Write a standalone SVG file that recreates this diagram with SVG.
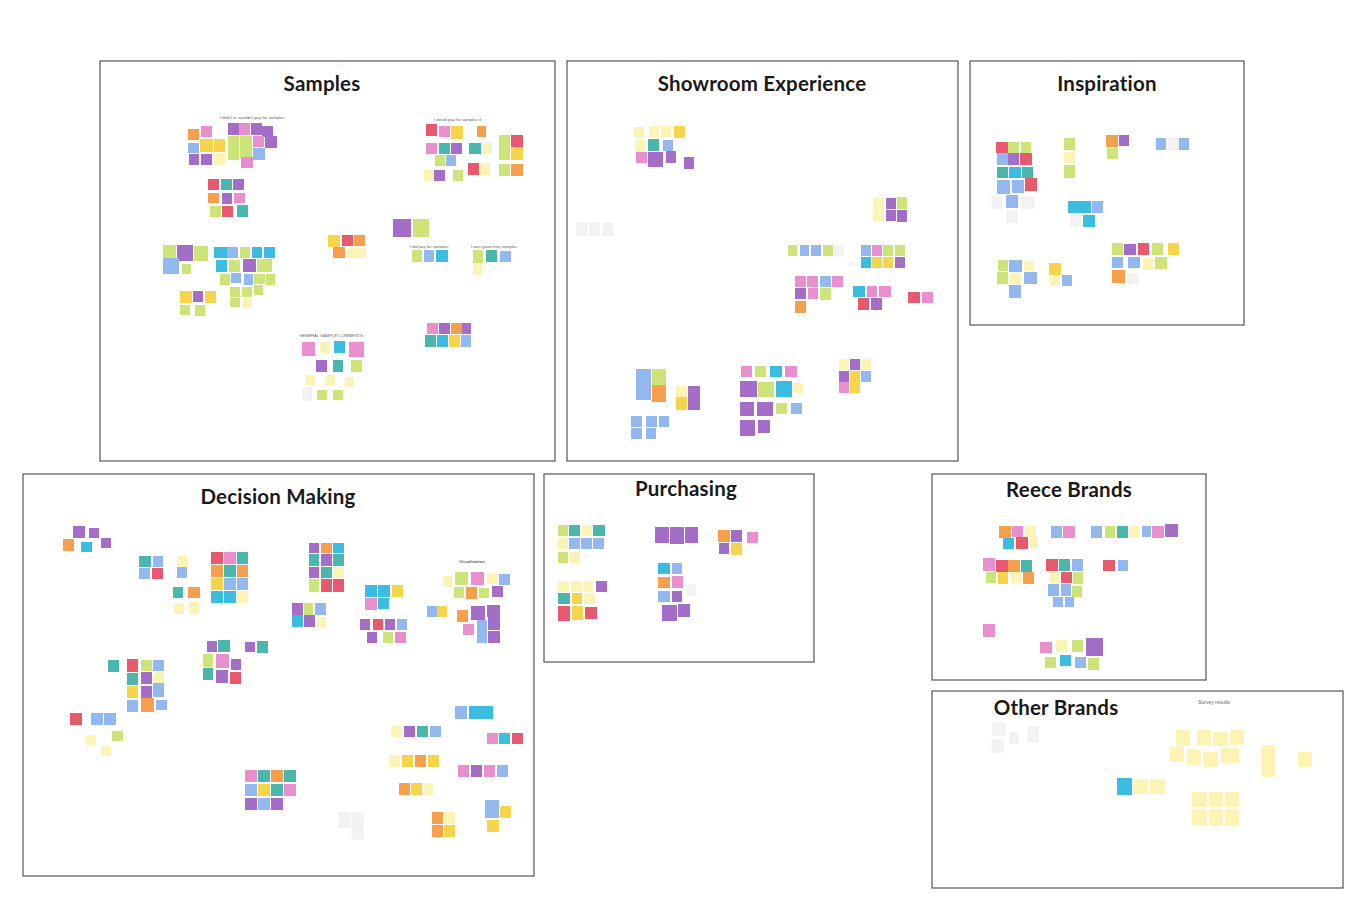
<svg xmlns="http://www.w3.org/2000/svg" width="1368" height="906" viewBox="0 0 1368 906">
<style>
.frame{fill:#fff;stroke:#555;stroke-width:1.2}
.title{font-family:Lato,"Noto Sans",sans-serif;font-weight:700;font-size:20.5px;letter-spacing:0.2px;fill:#1a1a1a;text-anchor:middle}
.lbl{font-family:"Liberation Sans",Arial,sans-serif;font-size:4.2px;fill:#666;text-anchor:middle}
.o{fill:#f6a04d}.p{fill:#ea8fcd}.u{fill:#a46ec8}.y{fill:#f6d44c}.g{fill:#cde479}.l{fill:#fbf4b4}
.b{fill:#93b8ef}.c{fill:#3cbde0}.t{fill:#4bb7ac}.r{fill:#e6596e}.w{fill:#f3f3f3;stroke:#e2e2e2;stroke-width:0.5}
</style>
<rect width="1368" height="906" fill="#fff"/>

<g id="samples">
<rect class="frame" x="100" y="61" width="455" height="400"/>
<text class="title" x="322" y="91">Samples</text>
<text class="lbl" x="252" y="119">I didn't or wouldn't pay for samples</text>
<rect class="o" x="188" y="129" width="11" height="11"/><rect class="p" x="201" y="126" width="11" height="11"/><rect class="u" x="228" y="123" width="11" height="12"/><rect class="p" x="239" y="123" width="11" height="12"/><rect class="u" x="251" y="123" width="11" height="12"/><rect class="u" x="262" y="126" width="11" height="11"/>
<rect class="b" x="188" y="143" width="11" height="10"/><rect class="y" x="200" y="139" width="13" height="13"/><rect class="y" x="214" y="139" width="11" height="13"/><rect class="g" x="228" y="136" width="11" height="12"/><rect class="g" x="240" y="136" width="12" height="12"/><rect class="p" x="253" y="136" width="11" height="11"/><rect class="u" x="265" y="136" width="12" height="12"/>
<rect class="u" x="189" y="154" width="10" height="11"/><rect class="u" x="201" y="154" width="11" height="11"/><rect class="l" x="214" y="153" width="11" height="12"/><rect class="g" x="228" y="148" width="11" height="12"/><rect class="g" x="240" y="147" width="12" height="11"/><rect class="b" x="253" y="148" width="12" height="12"/><rect class="p" x="241" y="157" width="12" height="11"/>
<rect class="r" x="208" y="179" width="11" height="11"/><rect class="t" x="221" y="179" width="11" height="11"/><rect class="u" x="233" y="179" width="11" height="11"/>
<rect class="o" x="208" y="193" width="11" height="10"/><rect class="u" x="222" y="193" width="10" height="11"/><rect class="p" x="234" y="193" width="11" height="10"/>
<rect class="g" x="210" y="206" width="11" height="11"/><rect class="r" x="222" y="206" width="11" height="11"/><rect class="t" x="237" y="205" width="11" height="12"/>
<rect class="g" x="163" y="245" width="13" height="13"/><rect class="u" x="177" y="245" width="16" height="16"/><rect class="g" x="194" y="246" width="14" height="15"/><rect class="b" x="163" y="258" width="16" height="16"/><rect class="g" x="182" y="264" width="9" height="10"/>
<rect class="c" x="214" y="247" width="13" height="11"/><rect class="b" x="227" y="247" width="11" height="11"/><rect class="g" x="240" y="247" width="10" height="11"/><rect class="c" x="252" y="247" width="10" height="11"/><rect class="c" x="264" y="247" width="11" height="11"/>
<rect class="c" x="216" y="260" width="11" height="12"/><rect class="g" x="229" y="260" width="11" height="12"/><rect class="u" x="243" y="259" width="13" height="13"/><rect class="g" x="257" y="259" width="15" height="13"/>
<rect class="g" x="220" y="274" width="10" height="11"/><rect class="b" x="231" y="273" width="10" height="10"/><rect class="b" x="244" y="274" width="9" height="11"/><rect class="g" x="254" y="274" width="11" height="10"/><rect class="g" x="266" y="274" width="9" height="11"/>
<rect class="g" x="230" y="287" width="10" height="10"/><rect class="g" x="242" y="287" width="10" height="10"/><rect class="g" x="254" y="285" width="9" height="10"/><rect class="g" x="230" y="298" width="10" height="9"/><rect class="l" x="243" y="298" width="9" height="10"/>
<rect class="y" x="180" y="291" width="12" height="12"/><rect class="u" x="193" y="291" width="10" height="11"/><rect class="y" x="205" y="291" width="11" height="12"/><rect class="g" x="180" y="305" width="10" height="10"/><rect class="g" x="195" y="305" width="10" height="11"/>
<rect class="y" x="328" y="235" width="12" height="12"/><rect class="r" x="342" y="235" width="11" height="11"/><rect class="o" x="354" y="235" width="11" height="11"/><rect class="o" x="333" y="247" width="12" height="11"/><rect class="l" x="347" y="248" width="10" height="10"/><rect class="l" x="357" y="248" width="9" height="10"/>
<text class="lbl" x="331" y="337">GENERAL SAMPLE COMMENTS</text>
<rect class="p" x="302" y="342" width="13" height="14"/><rect class="l" x="320" y="342" width="10" height="11"/><rect class="c" x="334" y="341" width="11" height="12"/><rect class="p" x="349" y="342" width="15" height="15"/>
<rect class="u" x="316" y="360" width="11" height="12"/><rect class="t" x="333" y="360" width="10" height="12"/><rect class="g" x="351" y="360" width="11" height="12"/>
<rect class="l" x="306" y="375" width="9" height="10"/><rect class="l" x="326" y="375" width="9" height="10"/><rect class="l" x="345" y="377" width="9" height="10"/>
<rect class="w" x="303" y="388" width="9" height="12"/><rect class="g" x="317" y="390" width="10" height="10"/><rect class="g" x="333" y="390" width="10" height="10"/>
<text class="lbl" x="459" y="121">I would pay for samples if...</text>
<rect class="r" x="426" y="124" width="11" height="12"/><rect class="p" x="439" y="126" width="11" height="11"/><rect class="y" x="451" y="126" width="12" height="13"/><rect class="o" x="477" y="126" width="9" height="11"/>
<rect class="p" x="426" y="143" width="11" height="11"/><rect class="t" x="439" y="143" width="11" height="11"/><rect class="u" x="451" y="143" width="11" height="11"/><rect class="t" x="469" y="143" width="12" height="11"/><rect class="l" x="483" y="143" width="9" height="11"/>
<rect class="g" x="435" y="155" width="10" height="11"/><rect class="b" x="446" y="155" width="10" height="11"/><rect class="r" x="468" y="163" width="11" height="12"/><rect class="l" x="480" y="163" width="10" height="12"/>
<rect class="l" x="424" y="170" width="9" height="11"/><rect class="u" x="434" y="170" width="11" height="11"/><rect class="g" x="453" y="170" width="10" height="11"/>
<rect class="g" x="499" y="135" width="11" height="12"/><rect class="r" x="511" y="135" width="12" height="12"/><rect class="g" x="499" y="147" width="11" height="13"/><rect class="y" x="511" y="147" width="12" height="13"/><rect class="g" x="499" y="164" width="11" height="12"/><rect class="o" x="511" y="164" width="12" height="12"/>
<rect class="u" x="393" y="219" width="18" height="18"/><rect class="g" x="413" y="219" width="16" height="18"/>
<text class="lbl" x="429" y="248">I did pay for samples</text>
<rect class="g" x="412" y="250" width="10" height="12"/><rect class="b" x="424" y="250" width="10" height="12"/><rect class="c" x="436" y="250" width="12" height="12"/>
<text class="lbl" x="494" y="248">I was given free samples</text>
<rect class="g" x="473" y="250" width="10" height="13"/><rect class="t" x="486" y="250" width="11" height="12"/><rect class="b" x="500" y="251" width="11" height="11"/><rect class="l" x="473" y="263" width="9" height="12"/>
<rect class="p" x="427" y="323" width="11" height="11"/><rect class="u" x="439" y="323" width="11" height="11"/><rect class="o" x="451" y="323" width="11" height="11"/><rect class="u" x="462" y="323" width="9" height="11"/>
<rect class="t" x="425" y="335" width="11" height="12"/><rect class="c" x="437" y="335" width="11" height="12"/><rect class="y" x="449" y="335" width="11" height="12"/><rect class="b" x="461" y="335" width="10" height="12"/>
</g>

<g id="showroom">
<rect class="frame" x="567" y="61" width="391" height="400"/>
<text class="title" x="762" y="91">Showroom Experience</text>
<rect class="l" x="634" y="127" width="10" height="11"/><rect class="l" x="649" y="126" width="10" height="11"/><rect class="l" x="661" y="126" width="10" height="11"/><rect class="y" x="674" y="126" width="11" height="12"/>
<rect class="l" x="635" y="140" width="10" height="11"/><rect class="t" x="648" y="139" width="11" height="12"/><rect class="b" x="663" y="140" width="10" height="11"/>
<rect class="p" x="636" y="152" width="11" height="11"/><rect class="u" x="648" y="152" width="15" height="15"/><rect class="u" x="666" y="151" width="10" height="12"/><rect class="u" x="684" y="157" width="10" height="12"/>
<rect class="w" x="577" y="223" width="10" height="12"/><rect class="w" x="590" y="223" width="9" height="12"/><rect class="w" x="603" y="223" width="10" height="12"/>
<rect class="l" x="873" y="198" width="11" height="11"/><rect class="u" x="886" y="198" width="10" height="11"/><rect class="g" x="897" y="197" width="10" height="12"/>
<rect class="l" x="873" y="210" width="11" height="11"/><rect class="u" x="886" y="210" width="10" height="11"/><rect class="u" x="897" y="210" width="10" height="12"/>
<rect class="g" x="788" y="245" width="9" height="11"/><rect class="b" x="800" y="245" width="9" height="11"/><rect class="b" x="811" y="245" width="10" height="11"/><rect class="g" x="823" y="245" width="10" height="11"/><rect class="w" x="834" y="246" width="9" height="10"/>
<rect class="b" x="861" y="245" width="10" height="11"/><rect class="p" x="872" y="245" width="10" height="11"/><rect class="g" x="883" y="245" width="10" height="11"/><rect class="g" x="895" y="245" width="10" height="11"/>
<rect class="c" x="861" y="257" width="10" height="11"/><rect class="y" x="872" y="257" width="10" height="11"/><rect class="y" x="883" y="257" width="10" height="11"/><rect class="u" x="895" y="257" width="10" height="11"/>
<rect class="p" x="795" y="276" width="11" height="11"/><rect class="p" x="807" y="276" width="11" height="11"/><rect class="b" x="820" y="276" width="11" height="11"/><rect class="p" x="832" y="276" width="11" height="11"/>
<rect class="u" x="795" y="288" width="11" height="11"/><rect class="p" x="808" y="288" width="10" height="11"/><rect class="g" x="820" y="288" width="11" height="12"/><rect class="o" x="795" y="301" width="11" height="12"/>
<rect class="c" x="853" y="286" width="12" height="11"/><rect class="p" x="867" y="286" width="10" height="11"/><rect class="p" x="879" y="286" width="12" height="11"/><rect class="r" x="858" y="298" width="11" height="12"/><rect class="u" x="871" y="298" width="11" height="12"/>
<rect class="r" x="908" y="292" width="12" height="11"/><rect class="p" x="922" y="292" width="11" height="11"/>
<rect class="b" x="636" y="369" width="15" height="16"/><rect class="g" x="652" y="369" width="14" height="16"/><rect class="b" x="636" y="385" width="15" height="15"/><rect class="o" x="652" y="385" width="14" height="17"/>
<rect class="b" x="631" y="416" width="11" height="11"/><rect class="b" x="646" y="416" width="11" height="11"/><rect class="b" x="659" y="416" width="10" height="11"/><rect class="b" x="631" y="428" width="11" height="11"/><rect class="b" x="646" y="428" width="10" height="11"/>
<rect class="l" x="676" y="386" width="11" height="11"/><rect class="u" x="688" y="386" width="12" height="11"/><rect class="y" x="676" y="397" width="11" height="13"/><rect class="u" x="688" y="397" width="12" height="13"/>
<rect class="p" x="741" y="366" width="11" height="11"/><rect class="g" x="755" y="366" width="11" height="11"/><rect class="c" x="770" y="366" width="12" height="11"/><rect class="p" x="785" y="366" width="12" height="11"/>
<rect class="u" x="740" y="381" width="17" height="16"/><rect class="g" x="758" y="382" width="16" height="15"/><rect class="c" x="776" y="381" width="16" height="16"/><rect class="l" x="793" y="383" width="10" height="10"/>
<rect class="u" x="740" y="402" width="14" height="14"/><rect class="u" x="757" y="402" width="16" height="14"/><rect class="g" x="776" y="403" width="11" height="11"/><rect class="b" x="791" y="403" width="11" height="11"/>
<rect class="u" x="740" y="420" width="15" height="16"/><rect class="u" x="758" y="420" width="12" height="13"/>
<rect class="l" x="839" y="359" width="10" height="11"/><rect class="u" x="850" y="359" width="10" height="11"/><rect class="l" x="861" y="359" width="10" height="11"/>
<rect class="u" x="839" y="371" width="10" height="11"/><rect class="y" x="850" y="371" width="10" height="11"/><rect class="b" x="861" y="371" width="10" height="11"/>
<rect class="p" x="839" y="382" width="10" height="11"/><rect class="y" x="850" y="382" width="10" height="11"/>
</g>

<g id="inspiration">
<rect class="frame" x="970" y="61" width="274" height="264"/>
<text class="title" x="1107" y="91">Inspiration</text>
<rect class="r" x="996" y="142" width="12" height="11"/><rect class="g" x="1008" y="142" width="11" height="11"/><rect class="g" x="1021" y="142" width="10" height="11"/>
<rect class="b" x="997" y="153" width="11" height="12"/><rect class="u" x="1008" y="153" width="11" height="12"/><rect class="r" x="1020" y="153" width="12" height="12"/>
<rect class="t" x="997" y="167" width="11" height="11"/><rect class="c" x="1009" y="167" width="12" height="11"/><rect class="t" x="1022" y="167" width="11" height="11"/>
<rect class="b" x="997" y="180" width="13" height="14"/><rect class="b" x="1012" y="180" width="12" height="13"/><rect class="r" x="1025" y="178" width="12" height="13"/>
<rect class="w" x="992" y="197" width="10" height="11"/><rect class="b" x="1006" y="195" width="12" height="13"/><rect class="w" x="1022" y="197" width="12" height="11"/><rect class="w" x="1007" y="211" width="10" height="11"/>
<rect class="g" x="1064" y="138" width="11" height="12"/><rect class="l" x="1064" y="152" width="11" height="11"/><rect class="g" x="1064" y="165" width="11" height="13"/>
<rect class="o" x="1106" y="135" width="12" height="12"/><rect class="u" x="1119" y="135" width="10" height="11"/><rect class="g" x="1107" y="148" width="11" height="11"/>
<rect class="b" x="1156" y="138" width="10" height="12"/><rect class="w" x="1168" y="138" width="10" height="12"/><rect class="b" x="1179" y="138" width="10" height="12"/>
<rect class="c" x="1068" y="201" width="12" height="12"/><rect class="c" x="1080" y="201" width="11" height="12"/><rect class="b" x="1092" y="201" width="11" height="12"/><rect class="w" x="1071" y="215" width="10" height="11"/><rect class="c" x="1083" y="215" width="12" height="12"/>
<rect class="g" x="998" y="260" width="10" height="11"/><rect class="b" x="1009" y="260" width="13" height="12"/><rect class="l" x="1024" y="261" width="10" height="10"/>
<rect class="g" x="997" y="272" width="11" height="12"/><rect class="l" x="1010" y="273" width="11" height="11"/><rect class="b" x="1024" y="272" width="13" height="12"/><rect class="b" x="1009" y="285" width="12" height="13"/>
<rect class="y" x="1049" y="263" width="12" height="12"/><rect class="l" x="1050" y="276" width="10" height="10"/><rect class="b" x="1062" y="275" width="10" height="11"/>
<rect class="g" x="1112" y="243" width="11" height="12"/><rect class="u" x="1124" y="244" width="12" height="11"/><rect class="r" x="1138" y="243" width="11" height="12"/><rect class="g" x="1152" y="243" width="11" height="12"/><rect class="y" x="1168" y="243" width="11" height="12"/>
<rect class="b" x="1112" y="257" width="11" height="11"/><rect class="b" x="1128" y="257" width="12" height="11"/><rect class="l" x="1143" y="258" width="10" height="12"/><rect class="g" x="1155" y="257" width="12" height="12"/>
<rect class="o" x="1112" y="270" width="13" height="13"/><rect class="w" x="1128" y="274" width="10" height="10"/>
</g>

<g id="decision-making">
<rect class="frame" x="23" y="474" width="511" height="402"/>
<text class="title" x="278" y="504">Decision Making</text>
<rect class="u" x="73" y="526" width="12" height="12"/><rect class="u" x="89" y="528" width="10" height="10"/><rect class="o" x="63" y="539" width="11" height="12"/><rect class="c" x="81" y="542" width="11" height="10"/><rect class="u" x="101" y="538" width="10" height="10"/>
<rect class="t" x="139" y="556" width="12" height="11"/><rect class="b" x="153" y="556" width="10" height="11"/><rect class="b" x="139" y="568" width="11" height="11"/><rect class="r" x="152" y="568" width="11" height="11"/>
<rect class="l" x="177" y="556" width="10" height="11"/><rect class="b" x="177" y="567" width="10" height="11"/>
<rect class="t" x="173" y="587" width="10" height="11"/><rect class="o" x="188" y="587" width="12" height="11"/><rect class="l" x="174" y="603" width="10" height="11"/><rect class="l" x="189" y="602" width="10" height="12"/>
<rect class="r" x="211" y="552" width="12" height="12"/><rect class="p" x="224" y="552" width="12" height="12"/><rect class="t" x="237" y="552" width="11" height="12"/>
<rect class="o" x="211" y="565" width="12" height="12"/><rect class="t" x="224" y="565" width="12" height="12"/><rect class="o" x="237" y="565" width="11" height="12"/>
<rect class="y" x="211" y="578" width="12" height="12"/><rect class="b" x="224" y="578" width="12" height="12"/><rect class="b" x="237" y="578" width="11" height="12"/>
<rect class="c" x="211" y="591" width="12" height="12"/><rect class="c" x="224" y="591" width="12" height="12"/><rect class="l" x="237" y="591" width="11" height="12"/>
<rect class="u" x="207" y="641" width="10" height="11"/><rect class="t" x="218" y="640" width="12" height="12"/><rect class="u" x="245" y="642" width="10" height="10"/><rect class="t" x="257" y="641" width="11" height="12"/>
<rect class="g" x="203" y="654" width="10" height="13"/><rect class="p" x="216" y="654" width="13" height="14"/><rect class="u" x="231" y="659" width="10" height="11"/>
<rect class="t" x="203" y="668" width="10" height="12"/><rect class="u" x="216" y="670" width="12" height="13"/><rect class="r" x="230" y="672" width="11" height="12"/>
<rect class="t" x="108" y="660" width="11" height="12"/><rect class="r" x="127" y="659" width="11" height="13"/><rect class="g" x="141" y="660" width="11" height="11"/><rect class="b" x="153" y="660" width="11" height="11"/>
<rect class="t" x="127" y="673" width="11" height="12"/><rect class="u" x="141" y="672" width="11" height="12"/><rect class="l" x="154" y="672" width="10" height="11"/>
<rect class="y" x="127" y="686" width="11" height="12"/><rect class="u" x="141" y="686" width="11" height="12"/><rect class="b" x="153" y="683" width="11" height="14"/>
<rect class="b" x="127" y="700" width="11" height="12"/><rect class="o" x="141" y="698" width="13" height="14"/><rect class="b" x="156" y="700" width="11" height="10"/>
<rect class="r" x="70" y="713" width="12" height="12"/><rect class="b" x="91" y="713" width="12" height="12"/><rect class="b" x="104" y="713" width="12" height="12"/>
<rect class="l" x="86" y="735" width="10" height="10"/><rect class="g" x="112" y="731" width="11" height="10"/><rect class="l" x="101" y="746" width="10" height="10"/>
<rect class="u" x="309" y="543" width="10" height="10"/><rect class="o" x="321" y="543" width="11" height="10"/><rect class="c" x="333" y="543" width="11" height="10"/>
<rect class="t" x="309" y="554" width="10" height="12"/><rect class="u" x="321" y="554" width="11" height="12"/><rect class="t" x="333" y="554" width="11" height="12"/>
<rect class="u" x="309" y="567" width="10" height="11"/><rect class="t" x="321" y="567" width="11" height="11"/><rect class="l" x="333" y="567" width="11" height="11"/>
<rect class="g" x="309" y="579" width="10" height="13"/><rect class="r" x="321" y="579" width="11" height="13"/><rect class="r" x="333" y="579" width="11" height="13"/>
<rect class="u" x="292" y="603" width="11" height="12"/><rect class="g" x="304" y="603" width="9" height="12"/><rect class="b" x="315" y="603" width="11" height="12"/>
<rect class="c" x="292" y="615" width="11" height="12"/><rect class="u" x="304" y="615" width="11" height="12"/><rect class="l" x="317" y="617" width="9" height="10"/>
<rect class="c" x="365" y="585" width="12" height="12"/><rect class="c" x="378" y="585" width="12" height="12"/><rect class="y" x="392" y="585" width="11" height="12"/><rect class="p" x="365" y="598" width="12" height="12"/><rect class="c" x="378" y="598" width="11" height="11"/>
<rect class="u" x="360" y="619" width="10" height="11"/><rect class="r" x="373" y="619" width="10" height="11"/><rect class="u" x="385" y="619" width="10" height="11"/><rect class="b" x="397" y="619" width="10" height="11"/>
<rect class="u" x="367" y="632" width="10" height="11"/><rect class="g" x="383" y="632" width="10" height="11"/><rect class="p" x="395" y="632" width="11" height="11"/>
<text class="lbl" x="472" y="563" style="font-weight:700">Visualization</text>
<rect class="l" x="443" y="576" width="9" height="11"/><rect class="g" x="455" y="572" width="13" height="13"/><rect class="p" x="471" y="572" width="13" height="13"/><rect class="l" x="487" y="573" width="10" height="11"/><rect class="b" x="499" y="574" width="11" height="11"/>
<rect class="g" x="454" y="587" width="10" height="11"/><rect class="o" x="466" y="587" width="11" height="12"/><rect class="g" x="479" y="588" width="10" height="10"/><rect class="u" x="492" y="586" width="11" height="11"/>
<rect class="b" x="427" y="606" width="10" height="11"/><rect class="y" x="437" y="606" width="10" height="11"/>
<rect class="o" x="457" y="610" width="11" height="12"/><rect class="u" x="471" y="606" width="14" height="14"/><rect class="u" x="487" y="605" width="13" height="12"/>
<rect class="p" x="463" y="624" width="11" height="11"/><rect class="b" x="477" y="620" width="10" height="13"/><rect class="u" x="488" y="617" width="12" height="13"/><rect class="b" x="477" y="633" width="10" height="10"/><rect class="u" x="488" y="631" width="12" height="12"/>
<rect class="b" x="455" y="706" width="12" height="13"/><rect class="c" x="469" y="706" width="12" height="13"/><rect class="c" x="481" y="706" width="12" height="13"/>
<rect class="p" x="487" y="733" width="11" height="11"/><rect class="c" x="499" y="733" width="11" height="11"/><rect class="r" x="512" y="733" width="11" height="11"/>
<rect class="l" x="391" y="726" width="11" height="11"/><rect class="u" x="404" y="726" width="11" height="11"/><rect class="t" x="417" y="726" width="11" height="11"/><rect class="b" x="430" y="726" width="11" height="11"/>
<rect class="l" x="389" y="755" width="11" height="12"/><rect class="y" x="402" y="755" width="11" height="12"/><rect class="o" x="415" y="755" width="11" height="12"/><rect class="y" x="428" y="755" width="11" height="12"/>
<rect class="p" x="458" y="765" width="11" height="12"/><rect class="u" x="471" y="765" width="11" height="12"/><rect class="p" x="484" y="765" width="11" height="12"/><rect class="b" x="497" y="765" width="11" height="12"/>
<rect class="o" x="399" y="783" width="11" height="12"/><rect class="y" x="411" y="783" width="11" height="12"/><rect class="l" x="423" y="783" width="10" height="12"/>
<rect class="o" x="432" y="812" width="11" height="12"/><rect class="l" x="444" y="812" width="11" height="12"/><rect class="o" x="432" y="825" width="11" height="12"/><rect class="y" x="444" y="825" width="11" height="12"/>
<rect class="b" x="485" y="800" width="14" height="18"/><rect class="y" x="500" y="806" width="11" height="12"/><rect class="y" x="487" y="820" width="12" height="12"/>
<rect class="p" x="245" y="770" width="12" height="12"/><rect class="t" x="258" y="770" width="12" height="12"/><rect class="o" x="271" y="770" width="12" height="12"/><rect class="t" x="284" y="770" width="12" height="12"/>
<rect class="b" x="245" y="784" width="12" height="12"/><rect class="y" x="258" y="784" width="12" height="12"/><rect class="t" x="271" y="784" width="12" height="12"/><rect class="p" x="284" y="784" width="12" height="12"/>
<rect class="u" x="245" y="798" width="12" height="12"/><rect class="b" x="258" y="798" width="12" height="12"/><rect class="u" x="271" y="798" width="12" height="12"/>
<rect class="w" x="339" y="813" width="11" height="14"/><rect class="w" x="352" y="813" width="11" height="14"/><rect class="w" x="352" y="828" width="11" height="11"/>
</g>

<g id="purchasing">
<rect class="frame" x="544" y="474" width="270" height="188"/>
<text class="title" x="686" y="496">Purchasing</text>
<rect class="g" x="558" y="525" width="10" height="11"/><rect class="t" x="569" y="525" width="11" height="11"/><rect class="l" x="582" y="525" width="10" height="11"/><rect class="t" x="593" y="525" width="12" height="11"/>
<rect class="l" x="558" y="538" width="10" height="11"/><rect class="b" x="569" y="538" width="11" height="11"/><rect class="b" x="581" y="538" width="11" height="11"/><rect class="b" x="593" y="538" width="11" height="11"/>
<rect class="g" x="558" y="552" width="10" height="11"/><rect class="l" x="570" y="552" width="10" height="11"/>
<rect class="l" x="558" y="581" width="11" height="11"/><rect class="l" x="571" y="581" width="11" height="11"/><rect class="l" x="583" y="581" width="10" height="11"/><rect class="u" x="596" y="581" width="11" height="11"/>
<rect class="t" x="558" y="593" width="12" height="11"/><rect class="y" x="572" y="593" width="10" height="11"/><rect class="l" x="584" y="593" width="11" height="11"/>
<rect class="r" x="558" y="606" width="12" height="15"/><rect class="y" x="572" y="606" width="11" height="14"/><rect class="r" x="585" y="607" width="12" height="12"/>
<rect class="u" x="655" y="527" width="14" height="16"/><rect class="u" x="670" y="527" width="14" height="17"/><rect class="u" x="685" y="527" width="13" height="16"/>
<rect class="o" x="718" y="530" width="12" height="12"/><rect class="u" x="731" y="530" width="11" height="12"/><rect class="p" x="747" y="532" width="11" height="11"/><rect class="u" x="719" y="543" width="10" height="11"/><rect class="y" x="731" y="543" width="11" height="12"/>
<rect class="c" x="658" y="563" width="12" height="11"/><rect class="b" x="672" y="563" width="10" height="11"/><rect class="o" x="658" y="577" width="12" height="11"/><rect class="p" x="672" y="576" width="11" height="12"/><rect class="w" x="687" y="585" width="8" height="10"/>
<rect class="b" x="658" y="591" width="12" height="11"/><rect class="u" x="672" y="591" width="10" height="11"/><rect class="u" x="662" y="605" width="15" height="16"/><rect class="u" x="678" y="604" width="12" height="13"/>
</g>

<g id="reece-brands">
<rect class="frame" x="932" y="474" width="274" height="206"/>
<text class="title" x="1069" y="497">Reece Brands</text>
<rect class="o" x="999" y="526" width="12" height="12"/><rect class="p" x="1012" y="526" width="11" height="11"/><rect class="l" x="1025" y="526" width="11" height="11"/>
<rect class="c" x="1003" y="538" width="11" height="11"/><rect class="r" x="1016" y="537" width="12" height="12"/><rect class="l" x="1029" y="537" width="9" height="11"/>
<rect class="b" x="1051" y="526" width="11" height="12"/><rect class="p" x="1063" y="526" width="12" height="12"/>
<rect class="b" x="1091" y="526" width="11" height="12"/><rect class="g" x="1105" y="526" width="10" height="12"/><rect class="t" x="1117" y="526" width="11" height="12"/><rect class="l" x="1129" y="526" width="10" height="11"/><rect class="b" x="1142" y="526" width="9" height="11"/><rect class="p" x="1152" y="526" width="12" height="12"/><rect class="u" x="1165" y="524" width="13" height="13"/>
<rect class="p" x="983" y="558" width="12" height="13"/><rect class="r" x="996" y="560" width="12" height="12"/><rect class="o" x="1008" y="560" width="12" height="12"/><rect class="t" x="1021" y="560" width="11" height="12"/>
<rect class="g" x="986" y="572" width="10" height="11"/><rect class="y" x="998" y="572" width="10" height="12"/><rect class="l" x="1011" y="572" width="11" height="11"/><rect class="o" x="1023" y="572" width="11" height="12"/>
<rect class="r" x="1046" y="559" width="12" height="12"/><rect class="t" x="1059" y="559" width="11" height="12"/><rect class="b" x="1072" y="559" width="11" height="12"/>
<rect class="l" x="1050" y="572" width="9" height="11"/><rect class="r" x="1061" y="572" width="11" height="11"/><rect class="g" x="1073" y="572" width="10" height="12"/>
<rect class="b" x="1048" y="584" width="11" height="12"/><rect class="b" x="1061" y="584" width="10" height="12"/><rect class="g" x="1072" y="586" width="10" height="11"/>
<rect class="b" x="1053" y="597" width="10" height="10"/><rect class="b" x="1065" y="597" width="9" height="10"/>
<rect class="r" x="1103" y="560" width="12" height="11"/><rect class="b" x="1118" y="560" width="10" height="11"/>
<rect class="p" x="983" y="624" width="12" height="13"/>
<rect class="p" x="1040" y="642" width="12" height="11"/><rect class="l" x="1056" y="640" width="11" height="12"/><rect class="g" x="1072" y="640" width="11" height="12"/><rect class="u" x="1086" y="638" width="17" height="18"/>
<rect class="g" x="1045" y="657" width="11" height="11"/><rect class="c" x="1060" y="655" width="11" height="11"/><rect class="b" x="1075" y="657" width="11" height="11"/><rect class="g" x="1088" y="658" width="11" height="12"/>
</g>

<g id="other-brands">
<rect class="frame" x="932" y="691" width="411" height="197"/>
<text class="title" x="1056" y="715">Other Brands</text>
<text class="lbl" x="1214" y="704" style="font-size:5px">Survey results</text>
<rect class="w" x="993" y="723" width="12" height="12"/><rect class="w" x="992" y="740" width="11" height="12"/><rect class="w" x="1010" y="733" width="8" height="10"/><rect class="w" x="1028" y="727" width="10" height="15"/>
<rect class="l" x="1176" y="730" width="14" height="16"/><rect class="l" x="1197" y="730" width="14" height="15"/><rect class="l" x="1213" y="732" width="15" height="14"/><rect class="l" x="1230" y="730" width="14" height="15"/>
<rect class="l" x="1170" y="747" width="14" height="15"/><rect class="l" x="1187" y="749" width="14" height="16"/><rect class="l" x="1203" y="752" width="15" height="15"/><rect class="l" x="1221" y="748" width="18" height="15"/>
<rect class="l" x="1261" y="745" width="14" height="32"/><rect class="l" x="1298" y="752" width="14" height="15"/>
<rect class="c" x="1117" y="778" width="15" height="17"/><rect class="l" x="1134" y="779" width="14" height="15"/><rect class="l" x="1150" y="779" width="15" height="15"/>
<rect class="l" x="1192" y="792" width="15" height="15"/><rect class="l" x="1209" y="792" width="14" height="15"/><rect class="l" x="1225" y="792" width="14" height="15"/>
<rect class="l" x="1192" y="809" width="15" height="16"/><rect class="l" x="1209" y="809" width="14" height="16"/><rect class="l" x="1225" y="809" width="14" height="17"/>
</g>

<g id="connectors"></g>
</svg>
